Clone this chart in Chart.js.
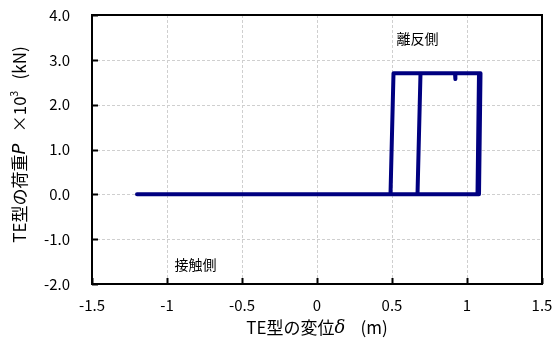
<!DOCTYPE html>
<html>
<head>
<meta charset="utf-8">
<script src="https://cdn.jsdelivr.net/npm/chart.js@4.4.1/dist/chart.umd.min.js"></script>
<style>
  html, body { margin: 0; padding: 0; background: #fff; }
  #wrap { width: 556px; height: 353px; }
</style>
</head>
<body>
<div id="wrap"><canvas id="canvas" width="556" height="353"></canvas></div>
<script>
// hysteresis loop: displacement (m) vs load (x10^3 kN)
var dispX = [-1.2, 0.49, 0.51, 1.08, 1.07, 0.5, 0.67, 0.69, 0.92, 0.92, 0.925, 1.09, 1.08];
var loadY = [0.0, 0.0, 2.7, 2.7, 0.0, 0.0, 0.0, 2.7, 2.7, 2.57, 2.7, 2.7, 0.0];
var xTicks = [-1.5, -1, -0.5, 0, 0.5, 1, 1.5];
var yTicks = [-2.0, -1.0, 0.0, 1.0, 2.0, 3.0, 4.0];

var FONT = '"Noto Sans CJK JP", "DejaVu Sans", sans-serif';

var points = dispX.map(function (x, i) { return { x: x, y: loadY[i] }; });

// dotted grid behind the line
var grid = {
    id: 'grid',
    beforeDatasetsDraw: function (chart) {
        var ctx = chart.ctx;
        var a = chart.chartArea;
        var sx = chart.scales.x, sy = chart.scales.y;
        ctx.save();
        ctx.strokeStyle = '#cfcfcf';
        ctx.lineWidth = 1;
        ctx.setLineDash([3, 2]);
        ctx.beginPath();
        xTicks.forEach(function (t) {
            var px = Math.round(sx.getPixelForValue(t)) + 0.5;
            ctx.moveTo(px, a.top);
            ctx.lineTo(px, a.bottom);
        });
        yTicks.forEach(function (t) {
            var py = Math.round(sy.getPixelForValue(t)) + 0.5;
            ctx.moveTo(a.left, py);
            ctx.lineTo(a.right, py);
        });
        ctx.stroke();
        ctx.restore();
    }
};

// frame, inward ticks, axis titles and labels
var decor = {
    id: 'decor',
    afterDraw: function (chart) {
        var ctx = chart.ctx;
        var a = chart.chartArea;
        var sx = chart.scales.x, sy = chart.scales.y;
        ctx.save();
        ctx.strokeStyle = '#000';
        ctx.lineWidth = 2;
        ctx.beginPath();
        xTicks.forEach(function (t) {
            var px = Math.round(sx.getPixelForValue(t)) + 0.5;
            ctx.moveTo(px, a.bottom);
            ctx.lineTo(px, a.bottom - 6);
        });
        yTicks.forEach(function (t) {
            var py = Math.round(sy.getPixelForValue(t)) + 0.5;
            ctx.moveTo(a.left, py);
            ctx.lineTo(a.left + 6, py);
        });
        ctx.stroke();
        ctx.strokeRect(a.left, a.top, a.right - a.left, a.bottom - a.top);

        // annotations
        ctx.fillStyle = '#000';
        ctx.font = '14px ' + FONT;
        ctx.textAlign = 'center';
        ctx.textBaseline = 'middle';
        ctx.fillText('離反側', sx.getPixelForValue(0.67), sy.getPixelForValue(3.48));
        ctx.fillText('接触側', sx.getPixelForValue(-0.81), sy.getPixelForValue(-1.56));

        // x title
        drawParts(ctx, [
            { t: 'TE型の変位', f: '17px ' + FONT },
            { t: 'δ', f: 'italic 18px "DejaVu Serif", serif' },
            { t: '    (m)', f: '17px ' + FONT }
        ], (a.left + a.right) / 2, 328, 0);

        // y title
        drawParts(ctx, [
            { t: 'TE型の荷重', f: '17px ' + FONT },
            { t: 'P', f: 'italic 18px "DejaVu Sans", sans-serif' },
            { t: '   ×10', f: '17px ' + FONT },
            { t: '3', f: '10px ' + FONT, dy: -6 },
            { t: '   (kN)', f: '17px ' + FONT }
        ], 20, (a.top + a.bottom) / 2 - 5, -Math.PI / 2);
        ctx.restore();
    }
};

function drawParts(ctx, parts, cx, cy, rot) {
    var total = 0;
    parts.forEach(function (p) { ctx.font = p.f; p.w = ctx.measureText(p.t).width; total += p.w; });
    ctx.save();
    ctx.translate(cx, cy);
    ctx.rotate(rot);
    ctx.textAlign = 'left';
    ctx.textBaseline = 'middle';
    var x = -total / 2;
    parts.forEach(function (p) {
        ctx.font = p.f;
        ctx.fillText(p.t, x, p.dy || 0);
        x += p.w;
    });
    ctx.restore();
}

var config = {
    type: 'scatter',
    data: {
        datasets: [{
            data: points,
            showLine: true,
            borderColor: '#000080',
            backgroundColor: '#000080',
            borderWidth: 4,
            pointRadius: 0,
            tension: 0,
            borderJoinStyle: 'round',
            borderCapStyle: 'round'
        }]
    },
    options: {
        responsive: false,
        animation: false,
        layout: { padding: { left: 0, right: 14, top: 15, bottom: 0 } },
        plugins: { legend: { display: false }, tooltip: { enabled: false } },
        scales: {
            x: {
                type: 'linear',
                min: -1.5, max: 1.5,
                afterFit: function (s) { s.height = 69; s.paddingLeft = 0; s.paddingRight = 0; },
                afterBuildTicks: function (s) { s.ticks = xTicks.map(function (v) { return { value: v }; }); },
                grid: { display: false, drawTicks: false },
                border: { display: false },
                ticks: {
                    padding: 12,
                    color: '#000',
                    font: { family: FONT, size: 15 },
                    callback: function (v) { return String(v); }
                }
            },
            y: {
                type: 'linear',
                min: -2, max: 4,
                afterFit: function (s) { s.width = 92; s.paddingTop = 0; s.paddingBottom = 0; },
                afterBuildTicks: function (s) { s.ticks = yTicks.map(function (v) { return { value: v }; }); },
                grid: { display: false, drawTicks: false },
                border: { display: false },
                ticks: {
                    padding: 22,
                    color: '#000',
                    font: { family: FONT, size: 15 },
                    callback: function (v) { return v.toFixed(1); }
                }
            }
        }
    },
    plugins: [grid, decor]
};

var chart = new Chart(document.getElementById('canvas'), config);
</script>
</body>
</html>
